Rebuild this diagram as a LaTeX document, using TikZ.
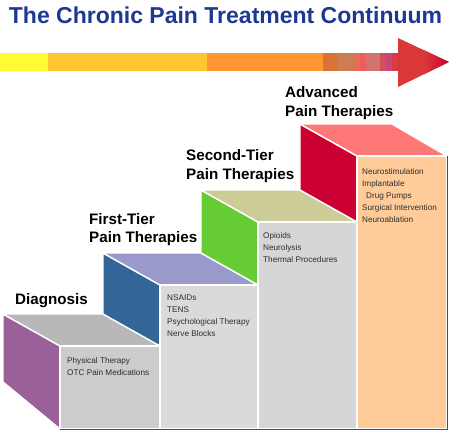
\documentclass[tikz,border=0pt]{standalone}
\usepackage{fontspec}
\setmainfont{Liberation Sans}
\usepackage{xcolor}
\usepackage{tikz}
\usetikzlibrary{positioning}

\definecolor{titleblue}{RGB}{28,56,146}
\definecolor{diagside}{RGB}{153,96,153}
\definecolor{diagtop}{RGB}{184,184,184}
\definecolor{diagfront}{RGB}{204,204,204}
\definecolor{firstside}{RGB}{51,101,150}
\definecolor{firsttop}{RGB}{153,153,204}
\definecolor{firstfront}{RGB}{218,218,218}
\definecolor{secondside}{RGB}{102,204,51}
\definecolor{secondtop}{RGB}{204,204,153}
\definecolor{secondfront}{RGB}{214,214,214}
\definecolor{advside}{RGB}{204,0,51}
\definecolor{advtop}{RGB}{255,120,120}
\definecolor{advfront}{RGB}{255,204,153}
\definecolor{itemgrey}{RGB}{45,45,45}
\definecolor{arrowred}{RGB}{216,56,56}
\definecolor{tipred}{RGB}{204,0,51}

\begin{document}
\begin{tikzpicture}[x=1pt, y=-1pt]
        \tikzset{
            face/.style={draw=white, line width=1.4pt, line join=round},
            tierlabel/.style={anchor=base west, inner sep=0pt, align=left, font=\fontsize{15.2}{18.6}\selectfont\bfseries},
            itemlist/.style={anchor=base west, inner sep=0pt, align=left, text=itemgrey, font=\fontsize{8.2}{12.1}\selectfont}
        }
        \useasboundingbox (0,0) rectangle (450,431);

        \node [anchor=base, inner sep=0pt, text=titleblue, font=\fontsize{23}{27}\selectfont\bfseries] (title) at (225.5,23.5) {The Chronic Pain Treatment Continuum};

        % continuum arrow
        \fill [fill={rgb,255:red,255;green,250;blue,50}] (0,53) rectangle (48,71);
        \fill [fill={rgb,255:red,255;green,198;blue,50}] (48,53) rectangle (207,71);
        \fill [fill={rgb,255:red,255;green,150;blue,50}] (207,53) rectangle (323,71);
        \fill [fill={rgb,255:red,215;green,115;blue,55}] (323,53) rectangle (337,71);
        \fill [fill={rgb,255:red,205;green,125;blue,85}] (337,53) rectangle (353,71);
        \fill [fill={rgb,255:red,225;green,110;blue,90}] (353,53) rectangle (360,71);
        \fill [fill={rgb,255:red,245;green,90;blue,90}] (360,53) rectangle (366,71);
        \fill [fill={rgb,255:red,210;green,115;blue,110}] (366,53) rectangle (380,71);
        \fill [fill={rgb,255:red,210;green,80;blue,90}] (380,53) rectangle (386,71);
        \fill [fill={rgb,255:red,200;green,70;blue,120}] (386,53) rectangle (392,71);
        \fill [fill={rgb,255:red,215;green,60;blue,70}] (392,53) rectangle (398,71);
        \fill [arrowred] (398,38) -- (449,62) -- (398,87) -- cycle;
        \begin{scope}
            \clip (398,38) -- (449,62) -- (398,87) -- cycle;
            \shade [left color=arrowred, right color=tipred] (424,38) rectangle (449,87);
        \end{scope}

        % diagnosis
        \fill [face, fill=diagside] (3,314) -- (60,346) -- (60,429) -- (3,382) -- cycle;
        \fill [face, fill=diagtop] (3,314) -- (103,314) -- (160,346) -- (60,346) -- cycle;
        \fill [face, fill=diagfront] (60,346) rectangle (160,429);
        % first tier
        \fill [face, fill=firstside] (103,253) -- (160,285) -- (160,346) -- (103,314) -- cycle;
        \fill [face, fill=firsttop] (103,253) -- (201,253) -- (258,285) -- (160,285) -- cycle;
        \fill [face, fill=firstfront] (160,285) rectangle (258,429);
        % second tier
        \fill [face, fill=secondside] (201,190) -- (258,222) -- (258,285) -- (201,253) -- cycle;
        \fill [face, fill=secondtop] (201,190) -- (300,190) -- (357,222) -- (258,222) -- cycle;
        \fill [face, fill=secondfront] (258,222) rectangle (357,429);
        % advanced
        \fill [face, fill=advside] (300,124) -- (357,156) -- (357,222) -- (300,190) -- cycle;
        \fill [face, fill=advtop] (300,124) -- (392,124) -- (447,156) -- (357,156) -- cycle;
        \fill [face, fill=advfront] (357,156) rectangle (447,429);
        \draw [gray!60!black, line width=1.2pt] (447.5,156) -- (447.5,429.5) -- (60,429.5);

        % base anchor sits on the last line
        \node [tierlabel] (diaglabel) at (15,304) {Diagnosis};
        \node [tierlabel] (firstlabel) at (89,242.7) {First-Tier\\Pain Therapies};
        \node [tierlabel] (secondlabel) at (186,179.3) {Second-Tier\\Pain Therapies};
        \node [tierlabel] (advlabel) at (285,116.3) {Advanced\\Pain Therapies};

        \node [itemlist] (diagitems) at (67,375.6) {Physical Therapy\\OTC Pain Medications};
        \node [itemlist] (firstitems) at (167,336.8) {NSAIDs\\TENS\\Psychological Therapy\\Nerve Blocks};
        \node [itemlist] (seconditems) at (263,262.7) {Opioids\\Neurolysis\\Thermal Procedures};
        \node [itemlist] (advitems) at (362,222.9) {Neurostimulation\\Implantable\\\hspace{4pt}Drug Pumps\\Surgical Intervention\\Neuroablation};
    \end{tikzpicture}
\end{document}
